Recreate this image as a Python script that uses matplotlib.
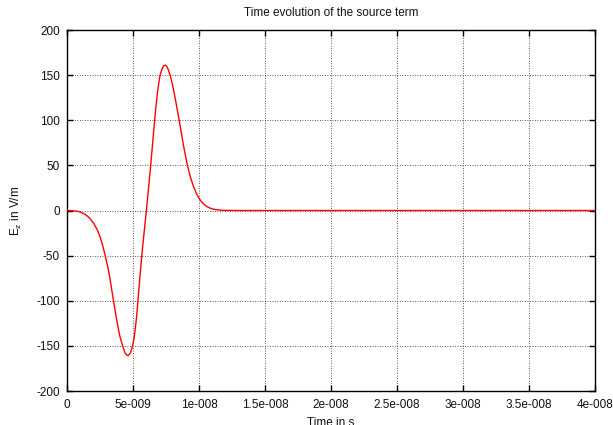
import matplotlib
matplotlib.use("Agg")
import matplotlib.pyplot as plt
import numpy as np

# source pulse sampled along the time axis (ns) and field values (V/m)
t_ns = [0, 0.4, 0.78, 1.05, 1.29, 1.55, 1.79, 2.05, 2.30, 2.50, 2.68, 2.88,
        3.05, 3.23, 3.37, 3.51, 3.66, 3.81, 4.0, 4.22, 4.42, 4.62, 4.80, 4.95,
        5.05, 5.13, 5.25, 5.33, 5.45, 5.58, 5.70, 5.83, 5.93, 6.02, 6.18, 6.34,
        6.49, 6.64, 6.75, 6.85, 6.95, 7.05, 7.2, 7.33, 7.45, 7.57, 7.7, 7.85,
        8.0, 8.2, 8.35, 8.51, 8.65, 8.8, 8.97, 9.14, 9.35, 9.57, 9.8, 10.0,
        10.2, 10.4, 10.6, 10.78, 11.0, 11.3, 11.6, 12.0, 12.5, 13.0, 40.0]
ez = [0, -0.2, -0.8, -2.0, -3.6, -6.2, -9.8, -15, -21.5, -29, -37.5, -49,
      -60, -73, -86, -99, -112, -125, -139, -150.5, -158.5, -161, -158, -151,
      -144, -136, -121, -108, -87, -64, -45, -26, -12, 1, 25, 50,
      75, 100, 117, 130, 141, 150, 157, 160.5, 161, 159.5, 155, 148,
      139, 124, 112, 99, 87, 74, 61, 49, 37, 27, 19, 13.5,
      9.5, 6.5, 4.3, 3.0, 1.8, 0.9, 0.4, 0.15, 0.05, 0, 0]

xticks = [0, 5e-9, 1e-8, 1.5e-8, 2e-8, 2.5e-8, 3e-8, 3.5e-8, 4e-8]
xtick_labels = ["0", "5e-009", "1e-008", "1.5e-008", "2e-008", "2.5e-008",
                "3e-008", "3.5e-008", "4e-008"]
yticks = [-200, -150, -100, -50, 0, 50, 100, 150, 200]

plt.rcParams['font.family'] = ['Liberation Sans', 'DejaVu Sans']
plt.rcParams['mathtext.fontset'] = 'custom'
plt.rcParams['mathtext.rm'] = 'Liberation Sans'
plt.rcParams['mathtext.it'] = 'Liberation Sans'
plt.rcParams['axes.unicode_minus'] = False

fig = plt.figure(figsize=(6.13, 4.25), dpi=100)
W, H = 613, 425
ax = fig.add_axes([67 / W, (H - 391) / H, (595 - 67) / W, (391 - 30) / H])

t = np.array(t_ns) * 1e-9
ax.plot(t, ez, color='#ff0000', lw=1.0, zorder=3)

ax.set_xlim(0, 4e-8)
ax.set_ylim(-200, 200)
ax.set_xticks(xticks)
ax.set_xticklabels(xtick_labels)
ax.set_yticks(yticks)

ax.grid(True, color='#222222', linestyle=(0, (1, 2)), linewidth=0.6)
ax.tick_params(direction='in', length=4, width=1, labelsize=8.5,
               labelcolor='#111111', top=True, right=True, pad=6)
ax.tick_params(axis='y', pad=5)
for s in ax.spines.values():
    s.set_linewidth(1)

ax.set_title("Time evolution of the source term", fontsize=8.5, pad=10,
             color='#111111')
ax.set_xlabel("Time in s", fontsize=8.5, labelpad=4, color='#111111')
ax.set_ylabel(r"E$_\mathregular{z}$ in V/m", fontsize=8.5, labelpad=9,
              color='#111111')

fig.savefig("out.png", dpi=100)
